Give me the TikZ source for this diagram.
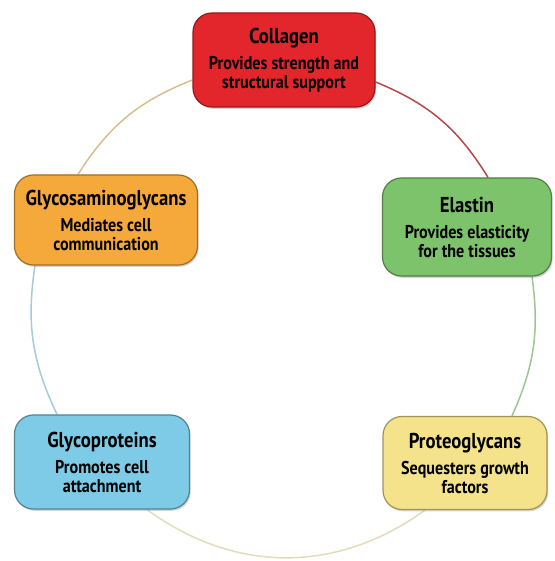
\documentclass[tikz,border=0pt]{standalone}
\usepackage{fontspec}
\setmainfont{PT Sans}[FakeStretch=0.87]
\usetikzlibrary{backgrounds,shadows}

% box fills and their darker rims
\definecolor{colred}{HTML}{E3262B}
\definecolor{elagreen}{HTML}{7DC36B}
\definecolor{gagorange}{HTML}{F6A93B}
\definecolor{gpblue}{HTML}{7DCBE6}
\definecolor{pgyellow}{HTML}{F4E38A}
% ring segments
\definecolor{ringred}{HTML}{B8474A}
\definecolor{ringtan}{HTML}{D8BE8E}
\definecolor{ringblue}{HTML}{A6CAD8}
\definecolor{ringgreen}{HTML}{9CC690}
\definecolor{ringcream}{HTML}{E2DCB8}

\tikzset{
  matbox/.style={draw=#1!65!black, fill=#1, rounded corners=19pt, line width=1.2pt,
    minimum width=172pt, minimum height=94pt, inner sep=2pt, align=center,
    font=\bfseries\fontsize{18.5}{19}\selectfont,
    drop shadow={shadow xshift=1.2pt, shadow yshift=-1.8pt, opacity=0.35}},
  ring/.style={line width=1.5pt, draw=#1}
}
\newcommand{\boxhead}[1]{{\fontsize{21.5}{19}\selectfont #1}\\[7pt]}

\begin{document}
\begin{tikzpicture}[x=1pt, y=1pt]
  \useasboundingbox (0,0) rectangle (554,561);

  \node[matbox=colred, minimum width=182pt] (collagen) at (284,501)
    {\boxhead{Collagen}Provides strength and\\structural support};
  \node[matbox=elagreen, minimum width=169pt, minimum height=98pt] (elastin) at (467,334)
    {\boxhead{Elastin}Provides elasticity\\for the tissues};
  \node[matbox=gagorange, minimum width=183pt, minimum height=90pt] (gags) at (106,341)
    {\boxhead{Glycosaminoglycans}Mediates cell\\communication};
  \node[matbox=gpblue, minimum width=175pt] (glycoprot) at (102,99)
    {\boxhead{Glycoproteins}Promotes cell\\attachment};
  \node[matbox=pgyellow, minimum width=164pt, minimum height=93pt] (proteogly) at (465,98)
    {\boxhead{Proteoglycans}Sequesters growth\\factors};

  % the ring behind the boxes
  \begin{scope}[on background layer]
    \draw[ring=ringred] ([yshift=-22pt]collagen.east) to[bend left=18] ([xshift=21pt]elastin.north);
    \draw[ring=ringtan] ([yshift=-20pt]collagen.west) to[bend right=18] ([xshift=-28pt]gags.north);
    \draw[ring=ringblue] ([xshift=-71pt]gags.south) to[bend right=17] ([xshift=-45pt]glycoprot.north);
    \draw[ring=ringgreen] ([xshift=65pt]elastin.south) to[bend left=16] ([xshift=47pt]proteogly.north);
    \draw[ring=ringcream] ([xshift=45pt]glycoprot.south) to[bend right=36] ([xshift=-40pt]proteogly.south);
  \end{scope}
\end{tikzpicture}
\end{document}
